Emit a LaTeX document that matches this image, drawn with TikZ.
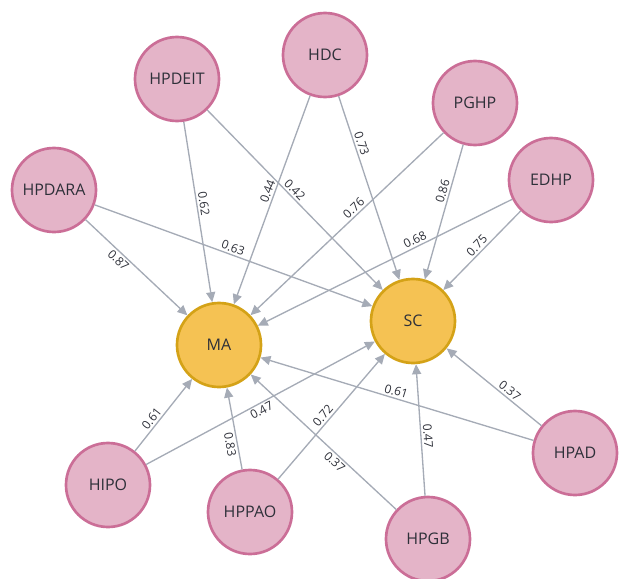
\documentclass[tikz,border=0pt]{standalone}
\usepackage{fontspec}
\setmainfont{Open Sans}
\usepackage{xcolor}
\usetikzlibrary{arrows.meta}
\definecolor{pinkfill}{HTML}{E4B4C8}
\definecolor{pinkline}{HTML}{CB6E97}
\definecolor{goldfill}{HTML}{F5C253}
\definecolor{goldline}{HTML}{D4A217}
\definecolor{edgegray}{HTML}{A5ABB6}
\definecolor{txt}{HTML}{2E3039}
\tikzset{
  factor/.style={circle, draw=pinkline, fill=pinkfill, line width=2pt, minimum size=63pt, inner sep=0pt, text=txt, font=\fontsize{12}{14}\selectfont},
  target/.style={factor, draw=goldline, fill=goldfill},
  edge/.style={draw=edgegray, line width=1pt, -{Triangle[length=7.5pt, width=6.8pt]}},
  lbl/.style={sloped, anchor=south, inner sep=1.5pt, text=txt, font=\fontsize{9}{10}\selectfont},
  lblb/.style={lbl, anchor=north}
}
\begin{document}
\begin{tikzpicture}[x=0.75pt,y=0.75pt]
	\useasboundingbox (0,0) rectangle (619,-579);
	% outcome nodes
	\node[target] (ma) at (219,-345) {MA};
	\node[target] (sc) at (413,-321) {SC};
	% factor nodes
	\node[factor] (hdc) at (325,-55) {HDC};
	\node[factor] (hpdeit) at (177,-79) {HPDEIT};
	\node[factor] (pghp) at (475,-103) {PGHP};
	\node[factor] (edhp) at (551,-180) {EDHP};
	\node[factor] (hpdara) at (54,-190) {HPDARA};
	\node[factor] (hpad) at (575,-453) {HPAD};
	\node[factor] (hipo) at (108,-485) {HIPO};
	\node[factor] (hppao) at (250,-512) {HPPAO};
	\node[factor] (hpgb) at (428,-539) {HPGB};
	% edges
	\draw[edge] (hpdeit) -- node[lbl, pos=0.46] {0.62} (ma);
	\draw[edge] (hdc) -- node[lbl, pos=0.47] {0.44} (ma);
	\draw[edge] (hpdeit) -- node[lbl, pos=0.47] {0.42} (sc);
	\draw[edge] (hdc) -- node[lbl, pos=0.27] {0.73} (sc);
	\draw[edge] (pghp) -- node[lbl, pos=0.44] {0.76} (ma);
	\draw[edge] (pghp) -- node[lbl, pos=0.36] {0.86} (sc);
	\draw[edge] (edhp) -- node[lbl, pos=0.37] {0.68} (ma);
	\draw[edge] (edhp) -- node[lbl, pos=0.5] {0.75} (sc);
	\draw[edge] (hpdara) -- node[lbl, pos=0.49] {0.63} (sc);
	\draw[edge] (hpdara) -- node[lblb, pos=0.37] {0.87} (ma);
	\draw[edge] (hipo) -- node[lbl, pos=0.39] {0.61} (ma);
	\draw[edge] (hipo) -- node[lblb, pos=0.49] {0.47} (sc);
	\draw[edge] (hppao) -- node[lblb, pos=0.32] {0.83} (ma);
	\draw[edge] (hppao) -- node[lbl, pos=0.47] {0.72} (sc);
	\draw[edge] (hpgb) -- node[lblb, pos=0.39] {0.37} (ma);
	\draw[edge] (hpgb) -- node[lbl, pos=0.45] {0.47} (sc);
	\draw[edge] (hpad) -- node[lbl, pos=0.51] {0.61} (ma);
	\draw[edge] (hpad) -- node[lbl, pos=0.38] {0.37} (sc);
\end{tikzpicture}
\end{document}
